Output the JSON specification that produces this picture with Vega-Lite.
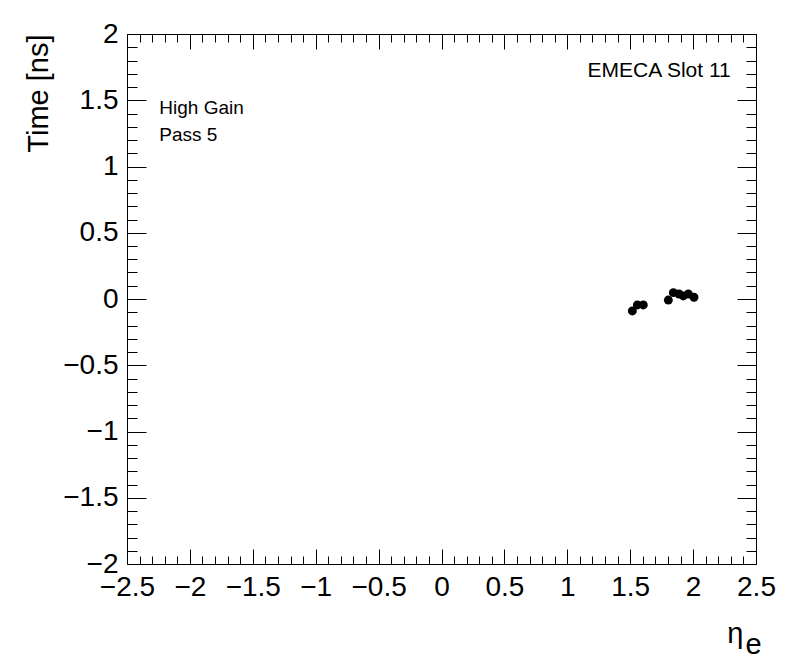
{
  "$schema": "https://vega.github.io/schema/vega-lite/v6.json",
  "width": 629,
  "height": 530,
  "autosize": "none",
  "padding": {"left": 127, "top": 34, "right": 40, "bottom": 108},
  "background": "white",
  "config": {
    "view": {"stroke": "black", "strokeWidth": 1},
    "axis": {"domain": false, "grid": false, "tickColor": "black", "labelColor": "black", "titleColor": "black", "labelFont": "Liberation Sans", "titleFont": "Liberation Sans", "labelFlush": false, "labelOverlap": false, "labelBound": false, "titleFontWeight": "normal"},
    "text": {"font": "Liberation Sans"}
  },
  "datasets": {
    "points": [
      {"eta": 1.517, "time": -0.09},
      {"eta": 1.557, "time": -0.045},
      {"eta": 1.604, "time": -0.045},
      {"eta": 1.803, "time": -0.008},
      {"eta": 1.843, "time": 0.048},
      {"eta": 1.888, "time": 0.038},
      {"eta": 1.922, "time": 0.023},
      {"eta": 1.962, "time": 0.038},
      {"eta": 2.007, "time": 0.013}
    ],
    "gain": [{"label": "High Gain"}],
    "pass": [{"label": "Pass 5"}],
    "slot": [{"label": "EMECA Slot 11"}]
  },
  "resolve": {"axis": {"x": "independent", "y": "independent"}},
  "layer": [
    {
      "data": {"name": "points"},
      "mark": {"type": "point", "filled": true, "color": "black", "opacity": 1, "size": 80},
      "encoding": {
        "x": {"field": "eta", "type": "quantitative", "scale": {"domain": [-2.5, 2.5], "nice": false, "zero": false},
          "axis": {"orient": "bottom", "values": [-2.5, -2, -1.5, -1, -0.5, 0, 0.5, 1, 1.5, 2, 2.5], "format": "~g", "tickSize": -15, "labelPadding": 24, "labelFontSize": 28, "title": "η", "titleFontSize": 29, "titleX": 616, "titleY": 78, "titleAlign": "right", "titleBaseline": "alphabetic", "titleAnchor": null}},
        "y": {"field": "time", "type": "quantitative", "scale": {"domain": [-2, 2], "nice": false, "zero": false},
          "axis": {"orient": "left", "values": [-2, -1.5, -1, -0.5, 0, 0.5, 1, 1.5, 2], "format": "~g", "tickSize": -19, "labelPadding": 28, "labelFontSize": 28, "title": "Time [ns]", "titleFontSize": 29, "titleX": -89, "titleY": 0, "titleAngle": 270, "titleAlign": "right", "titleBaseline": "middle", "titleAnchor": null}}
      }
    },
    {
      "data": {"name": "points"},
      "mark": {"type": "point", "opacity": 0},
      "encoding": {
        "x": {"field": "eta", "type": "quantitative", "scale": {"domain": [-2.5, 2.5], "nice": false, "zero": false},
          "axis": {"orient": "bottom", "values": [-2.4, -2.3, -2.2, -2.1, -1.9, -1.8, -1.7, -1.6, -1.4, -1.3, -1.2, -1.1, -0.9, -0.8, -0.7, -0.6, -0.4, -0.3, -0.2, -0.1, 0.1, 0.2, 0.3, 0.4, 0.6, 0.7, 0.8, 0.9, 1.1, 1.2, 1.3, 1.4, 1.6, 1.7, 1.8, 1.9, 2.1, 2.2, 2.3, 2.4], "tickSize": -8, "labels": false, "title": "e", "titleFontSize": 29, "titleX": 618, "titleY": 89, "titleAlign": "left", "titleBaseline": "alphabetic", "titleAnchor": null}},
        "y": {"field": "time", "type": "quantitative", "scale": {"domain": [-2, 2], "nice": false, "zero": false},
          "axis": {"orient": "left", "values": [-1.9, -1.8, -1.7, -1.6, -1.4, -1.3, -1.2, -1.1, -0.9, -0.8, -0.7, -0.6, -0.4, -0.3, -0.2, -0.1, 0.1, 0.2, 0.3, 0.4, 0.6, 0.7, 0.8, 0.9, 1.1, 1.2, 1.3, 1.4, 1.6, 1.7, 1.8, 1.9], "tickSize": -10, "labels": false, "title": null}}
      }
    },
    {
      "data": {"name": "points"},
      "mark": {"type": "point", "opacity": 0},
      "encoding": {
        "x": {"field": "eta", "type": "quantitative", "scale": {"domain": [-2.5, 2.5], "nice": false, "zero": false},
          "axis": {"orient": "top", "values": [-2.5, -2, -1.5, -1, -0.5, 0, 0.5, 1, 1.5, 2, 2.5], "tickSize": -15, "labels": false, "title": null}},
        "y": {"field": "time", "type": "quantitative", "scale": {"domain": [-2, 2], "nice": false, "zero": false},
          "axis": {"orient": "right", "values": [-2, -1.5, -1, -0.5, 0, 0.5, 1, 1.5, 2], "tickSize": -19, "labels": false, "title": null}}
      }
    },
    {
      "data": {"name": "points"},
      "mark": {"type": "point", "opacity": 0},
      "encoding": {
        "x": {"field": "eta", "type": "quantitative", "scale": {"domain": [-2.5, 2.5], "nice": false, "zero": false},
          "axis": {"orient": "top", "values": [-2.4, -2.3, -2.2, -2.1, -1.9, -1.8, -1.7, -1.6, -1.4, -1.3, -1.2, -1.1, -0.9, -0.8, -0.7, -0.6, -0.4, -0.3, -0.2, -0.1, 0.1, 0.2, 0.3, 0.4, 0.6, 0.7, 0.8, 0.9, 1.1, 1.2, 1.3, 1.4, 1.6, 1.7, 1.8, 1.9, 2.1, 2.2, 2.3, 2.4], "tickSize": -8, "labels": false, "title": null}},
        "y": {"field": "time", "type": "quantitative", "scale": {"domain": [-2, 2], "nice": false, "zero": false},
          "axis": {"orient": "right", "values": [-1.9, -1.8, -1.7, -1.6, -1.4, -1.3, -1.2, -1.1, -0.9, -0.8, -0.7, -0.6, -0.4, -0.3, -0.2, -0.1, 0.1, 0.2, 0.3, 0.4, 0.6, 0.7, 0.8, 0.9, 1.1, 1.2, 1.3, 1.4, 1.6, 1.7, 1.8, 1.9], "tickSize": -10, "labels": false, "title": null}}
      }
    },
    {
      "data": {"name": "gain"},
      "mark": {"type": "text", "align": "left", "baseline": "alphabetic", "fontSize": 19, "color": "black"},
      "encoding": {"x": {"datum": -2.243, "type": "quantitative", "axis": null}, "y": {"datum": 1.396, "type": "quantitative", "axis": null}, "text": {"field": "label"}}
    },
    {
      "data": {"name": "pass"},
      "mark": {"type": "text", "align": "left", "baseline": "alphabetic", "fontSize": 19, "color": "black"},
      "encoding": {"x": {"datum": -2.243, "type": "quantitative", "axis": null}, "y": {"datum": 1.195, "type": "quantitative", "axis": null}, "text": {"field": "label"}}
    },
    {
      "data": {"name": "slot"},
      "mark": {"type": "text", "align": "right", "baseline": "alphabetic", "fontSize": 21, "color": "black"},
      "encoding": {"x": {"datum": 2.299, "type": "quantitative", "axis": null}, "y": {"datum": 1.673, "type": "quantitative", "axis": null}, "text": {"field": "label"}}
    }
  ]
}
